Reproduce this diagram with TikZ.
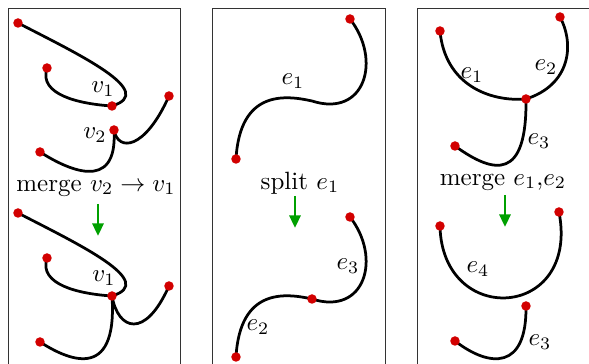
\documentclass[tikz,border=0pt]{standalone}
\usetikzlibrary{arrows.meta,backgrounds}
\definecolor{dotred}{RGB}{210,0,0}
\definecolor{arrgreen}{RGB}{0,160,0}
\begin{document}
\begin{tikzpicture}[x=0.4pt,y=-0.4pt,
  dot/.style={circle,fill=dotred,inner sep=0pt,minimum size=3.8pt},
  edge/.style={line width=1.1pt,line cap=round},
  panel/.style={draw=black!80,line width=0.4pt},
  garrow/.style={draw=arrgreen,line width=1.1pt,-{Triangle[length=5pt,width=4.4pt]}},
  lab/.style={inner sep=0pt}]
\useasboundingbox (0,0) rectangle (589,364);
\clip (0,0) rectangle (589,364);
% panels
\draw[panel] (9,9) rectangle (181,380);
\draw[panel] (213,9) rectangle (386,380);
\draw[panel] (418,9) rectangle (620,380);

% ---------- left panel top ----------
\node[dot] (A) at (18,23) {};
\node[dot] (B) at (47,68) {};
\node[dot] (V1) at (112,106) {};
\node[dot] (V2) at (114,130) {};
\node[dot] (C) at (169,96) {};
\node[dot] (D) at (40,152) {};
\node[lab] (lv1) at (103,89) {$v_1$};
\node[lab] (lv2) at (95,135) {$v_2$};
\begin{scope}[on background layer]
\draw[edge] (A.center) .. controls (80,55) and (158,92) .. (V1.center);
\draw[edge] (B.center) .. controls (38,95) and (80,104) .. (V1.center);
\draw[edge] (V2.center) .. controls (118,152) and (145,150) .. (C.center);
\draw[edge] (D.center) .. controls (65,168) and (118,195) .. (V2.center);
\end{scope}

\node[lab] (t1) at (96,188) {merge $v_2\to v_1$};
\coordinate (g1a) at (98,204);
\coordinate (g1b) at (98,236);
\draw[garrow] (g1a) -- (g1b);

% ---------- left panel bottom ----------
\node[dot] (A2) at (18,213) {};
\node[dot] (B2) at (47,258) {};
\node[dot] (W1) at (112,296) {};
\node[dot] (C2) at (169,286) {};
\node[dot] (D2) at (40,342) {};
\node[lab] (lw1) at (104,278) {$v_1$};
\begin{scope}[on background layer]
\draw[edge] (A2.center) .. controls (80,245) and (158,282) .. (W1.center);
\draw[edge] (B2.center) .. controls (38,285) and (80,294) .. (W1.center);
\draw[edge] (W1.center) .. controls (118,330) and (145,340) .. (C2.center);
\draw[edge] (D2.center) .. controls (65,358) and (118,385) .. (W1.center);
\end{scope}

% ---------- middle panel top ----------
\node[dot] (M1) at (350,19) {};
\node[dot] (M2) at (236,159) {};
\coordinate (Mj) at (312,101);
\node[lab] (le1) at (293,81) {$e_1$};
\begin{scope}[on background layer]
\draw[edge] (M1.center) .. controls (382,60) and (365,118) .. (Mj)
  .. controls (285,95) and (240,90) .. (M2.center);
\end{scope}

\node[lab] (t2) at (300,183) {split $e_1$};
\coordinate (g2a) at (295,196);
\coordinate (g2b) at (295,228);
\draw[garrow] (g2a) -- (g2b);

% ---------- middle panel bottom ----------
\node[dot] (N1) at (350,217) {};
\node[dot] (Nj) at (312,299) {};
\node[dot] (N2) at (236,357) {};
\node[lab] (le3) at (348,266) {$e_3$};
\node[lab] (le2) at (258,327) {$e_2$};
\begin{scope}[on background layer]
\draw[edge] (N1.center) .. controls (382,258) and (365,316) .. (Nj.center);
\draw[edge] (Nj.center) .. controls (285,293) and (240,288) .. (N2.center);
\end{scope}

% ---------- right panel top ----------
\node[dot] (R1) at (440,31) {};
\node[dot] (R2) at (560,17) {};
\node[dot] (Rj) at (526,99) {};
\node[dot] (R3) at (455,146) {};
\node[lab] (re1) at (472,75) {$e_1$};
\node[lab] (re2) at (546,67) {$e_2$};
\node[lab] (re3) at (539,141) {$e_3$};
\begin{scope}[on background layer]
\draw[edge] (R1.center) .. controls (445,85) and (490,102) .. (Rj.center);
\draw[edge] (R2.center) .. controls (575,45) and (570,85) .. (Rj.center);
\draw[edge] (Rj.center) .. controls (527,180) and (495,175) .. (R3.center);
\end{scope}

\node[lab] (t3) at (503,182) {merge $e_1$,$e_2$};
\coordinate (g3a) at (505,195);
\coordinate (g3b) at (505,227);
\draw[garrow] (g3a) -- (g3b);

% ---------- right panel bottom ----------
\node[dot] (S1) at (440,226) {};
\node[dot] (S2) at (559,212) {};
\node[dot] (S3) at (526,306) {};
\node[dot] (S4) at (455,341) {};
\node[lab] (re4) at (478,269) {$e_4$};
\node[lab] (re3b) at (540,342) {$e_3$};
\begin{scope}[on background layer]
\draw[edge] (S1.center) .. controls (442,328) and (580,320) .. (S2.center);
\draw[edge] (S3.center) .. controls (527,370) and (490,368) .. (S4.center);
\end{scope}
\end{tikzpicture}
\end{document}
